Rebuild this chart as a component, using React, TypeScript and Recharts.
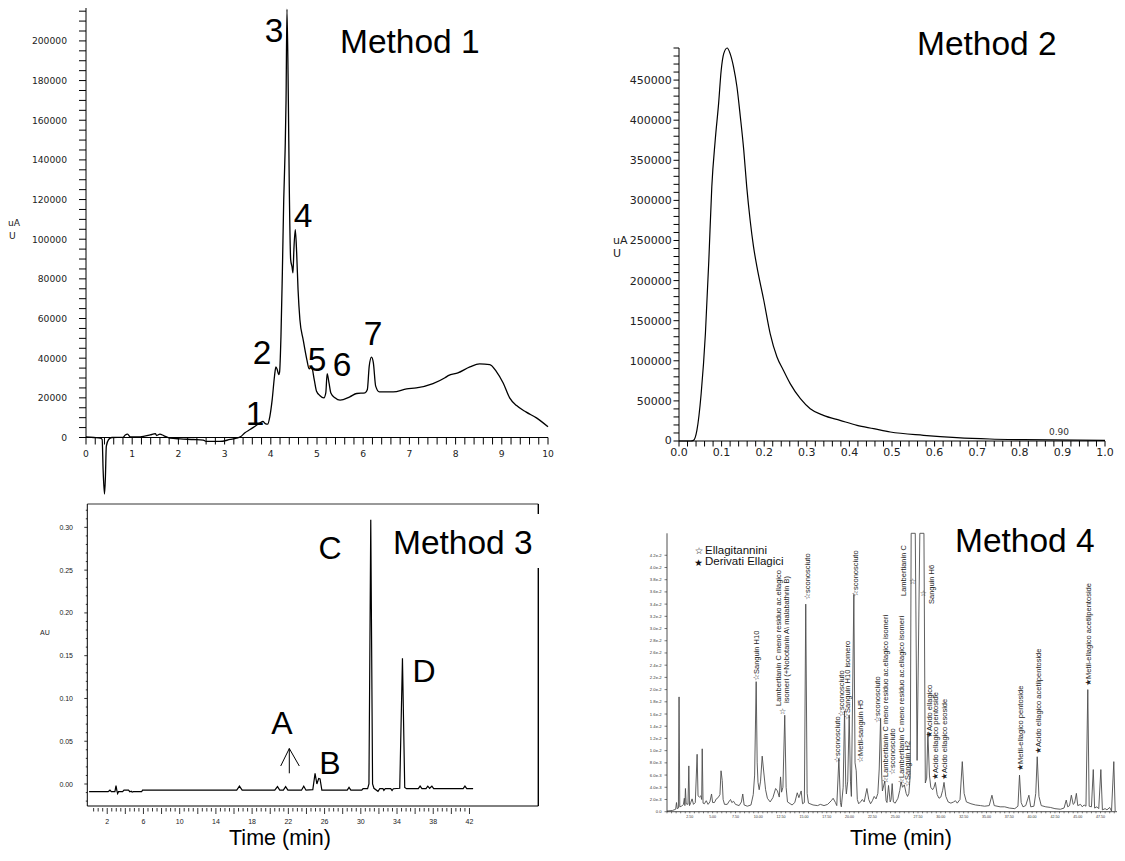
import React from 'react';
import { LineChart, Line, XAxis, YAxis, ReferenceLine } from 'recharts';

const SANS = '"Liberation Sans", Arial, Helvetica, sans-serif';
const DEJAVU = '"DejaVu Sans", Verdana, sans-serif';

// ---- Method 1 (uAU vs min) ----
const m1Time = [0, 0.17, 0.31, 0.35, 0.37, 0.4, 0.42, 0.44, 0.49, 0.56, 0.8, 0.85, 0.9, 0.96, 1.17, 1.39, 1.5, 1.53, 1.6, 1.68,
  1.82, 2.04, 2.33, 2.54, 2.6, 2.9, 3.12, 3.26, 3.34, 3.44, 3.55, 3.66, 3.77, 3.83, 3.88, 3.93, 3.98, 4.03, 4.08, 4.11,
  4.14, 4.17, 4.19, 4.22, 4.25, 4.28, 4.31, 4.33, 4.35, 4.38, 4.4, 4.43, 4.46, 4.48, 4.5, 4.53, 4.56, 4.59, 4.63, 4.7,
  4.78, 4.83, 4.88, 4.94, 4.99, 5.06, 5.15, 5.19, 5.22, 5.26, 5.3, 5.39, 5.5, 5.71, 5.86, 6.04, 6.09, 6.13, 6.18, 6.22,
  6.27, 6.35, 6.65, 6.94, 7.15, 7.51, 7.77, 7.84, 8.05, 8.31, 8.52, 8.74, 8.88, 9.03, 9.17, 9.32, 9.53, 9.75, 10];
const m1Signal = [300, 0, -300, -1000, -16000, -28500, -20000, -4400, -1000, 0, 100, 1300, 1700, 300, 300, 1300, 2000, 1000, 1700, 1000,
  -300, -700, -1000, -1300, -2000, -2000, -1000, -300, 300, 2400, 4000, 5700, 7400, 8100, 7000, 6700, 10700, 19100, 30900, 35600,
  34200, 31700, 33000, 51000, 83000, 120000, 145000, 170000, 216000, 170000, 126600, 89700, 86000, 83000, 95000, 104800, 93000, 74500, 59400, 49400,
  39300, 34600, 35900, 29200, 23300, 21200, 20000, 22500, 32200, 27500, 22500, 20000, 18800, 20500, 22200, 22500, 24200, 35900, 40500, 37600,
  25900, 23000, 23000, 24500, 25000, 27200, 30100, 31200, 32600, 35600, 37100, 36800, 33400, 27500, 20000, 16100, 12800, 9900, 5400];

// ---- Method 2 ----
const m2Time = [0, 0.027, 0.034, 0.042, 0.052, 0.062, 0.07, 0.077, 0.085, 0.093, 0.099, 0.105, 0.113, 0.12, 0.128, 0.136, 0.144,
  0.152, 0.159, 0.167, 0.175, 0.183, 0.199, 0.214, 0.23, 0.245, 0.261, 0.285, 0.308, 0.339, 0.378, 0.418, 0.457, 0.496,
  0.574, 0.652, 0.73, 0.808, 1.0];
const m2Signal = [0, 0, 800, 13300, 59000, 134000, 225000, 317000, 375000, 421000, 462000, 483000, 490000, 483000, 466600, 441700, 404200,
  362700, 316900, 275300, 242000, 217100, 175500, 133900, 104800, 88200, 71500, 52800, 40300, 32000, 25800, 19500, 15400, 11200,
  7100, 4200, 2500, 1700, 800];

// ---- Method 3 (AU) ----
const m3Time = [0, 2.1, 2.3, 2.45, 2.85, 2.97, 3.07, 3.15, 3.25, 3.7, 3.85, 4.35, 4.5, 4.65, 4.75, 4.9, 5.8, 5.9, 16.3, 16.6, 16.9,
  20.5, 20.8, 21.05, 21.45, 21.7, 21.95, 23.45, 23.7, 23.95, 24.7, 24.95, 25.15, 25.35, 25.5, 25.7, 28.5, 28.7, 28.9,
  30.1, 30.25, 30.75, 30.9, 31.1, 31.3, 31.45, 31.9, 32.1, 32.45, 32.55, 32.7, 33.3, 33.45, 33.6, 34.3, 34.6, 34.85, 35.05,
  36.35, 36.55, 36.75, 37.2, 37.4, 37.6, 37.85, 38.05, 41.3, 41.5, 41.7, 42.4];
const m3Signal = [-0.009, -0.009, -0.0072, -0.009, -0.009, -0.002, -0.008, -0.0112, -0.009, -0.009, -0.0072, -0.0072, -0.009, -0.0085, -0.0095, -0.009, -0.009, -0.0072, -0.0072, -0.0025, -0.0072,
  -0.0072, -0.003, -0.0072, -0.0072, -0.003, -0.0072, -0.0072, -0.0025, -0.0072, -0.0065, 0.0125, 0.0, 0.0065, 0.006, -0.0072, -0.0072, -0.004, -0.0072,
  -0.0072, -0.0055, -0.0055, 0.0, 0.309, 0.0, -0.005, -0.0085, -0.0055, -0.0055, -0.0075, -0.0055, -0.0055, -0.0075, -0.0055, -0.005, 0.147, -0.004, -0.0055,
  -0.0055, -0.0025, -0.0055, -0.0055, -0.0025, -0.005, -0.0025, -0.0055, -0.0055, -0.0025, -0.0055, -0.0055];

// ---- Method 4 (AU, x1e-3 below) ----
const m4Time = [0, 0.6, 0.95, 1.04, 1.12, 1.25, 1.32, 1.4, 1.6, 1.8, 1.9, 1.96, 2.02, 2.1, 2.3, 2.39, 2.47, 2.6, 2.75, 2.9,
  3.1, 3.3, 3.4, 3.55, 3.7, 3.8, 3.86, 3.95, 4.1, 4.3, 4.5, 4.7, 4.88, 5.0, 5.2, 5.4, 5.6, 5.8, 5.92, 6.05,
  6.15, 6.3, 6.6, 6.85, 6.96, 7.1, 7.3, 7.5, 7.9, 8.15, 8.3, 8.45, 8.8, 9.2, 9.45, 9.6, 9.77, 9.88, 9.97, 10.1,
  10.25, 10.43, 10.6, 10.8, 11.0, 11.3, 11.6, 11.9, 12.1, 12.3, 12.44, 12.55, 12.7, 12.9, 13.05, 13.2, 13.7, 14.0, 14.27, 14.45,
  14.7, 14.85, 15.05, 15.2, 15.35, 15.5, 16.0, 16.5, 16.8, 17.2, 17.6, 18.0, 18.2, 18.45, 18.6, 18.83, 19.0, 19.1, 19.3, 19.45,
  19.58, 19.65, 19.8, 19.96, 20.1, 20.2, 20.47, 20.6, 20.73, 20.85, 21.0, 21.2, 21.4, 21.6, 21.9, 22.1, 22.3, 22.5, 22.7, 22.9,
  23.1, 23.25, 23.4, 23.52, 23.6, 23.86, 24.0, 24.1, 24.27, 24.45, 24.55, 24.67, 24.8, 25.0, 25.3, 25.5, 25.65, 25.8, 26.0, 26.2,
  26.35, 26.5, 26.65, 26.75, 27.2, 27.4, 27.7, 28.15, 28.3, 28.45, 28.58, 28.75, 28.9, 29.1, 29.25, 29.4, 29.6, 29.8, 30.0, 30.2,
  30.35, 30.55, 30.8, 31.1, 31.4, 31.6, 31.8, 32.1, 32.35, 32.55, 32.8, 33.3, 33.8, 34.35, 34.8, 35.3, 35.6, 35.85, 36.5, 37.0,
  37.5, 38.1, 38.45, 38.62, 38.8, 39.0, 39.3, 39.65, 39.85, 40.2, 40.4, 40.56, 40.75, 41.0, 41.5, 42.0, 42.5, 43.1, 43.5, 43.74,
  43.9, 44.1, 44.3, 44.5, 44.65, 44.85, 45.0, 45.3, 45.5, 45.7, 45.9, 46.1, 46.25, 46.5, 46.7, 46.85, 47.1, 47.3, 47.53, 47.7,
  48.0, 48.2, 48.5, 48.7, 48.95, 49.1];
const m4SignalE3 = [0.1, 0.2, 0.4, 1.5, 0.5, 0.6, 18.8, 0.8, 0.9, 1.2, 2.2, 1.0, 3.8, 1.3, 1.2, 7.5, 1.0, 1.5, 2.1, 1.2,
  1.5, 9.4, 2.6, 2.4, 2.6, 2.0, 10.3, 1.4, 1.3, 1.8, 1.2, 1.6, 2.9, 1.5, 1.5, 2.1, 2.3, 2.8, 6.7, 5.1,
  2.0, 1.2, 1.2, 1.8, 2.0, 1.5, 1.7, 1.2, 1.0, 1.6, 2.9, 1.1, 0.9, 1.1, 2.8, 6.0, 21.3, 8.0, 4.8, 3.6,
  5.0, 9.1, 6.5, 3.6, 2.2, 1.6, 2.3, 3.8, 3.4, 2.4, 5.7, 3.2, 4.0, 15.8, 4.0, 1.6, 1.1, 1.5, 3.1, 2.3,
  3.4, 1.3, 1.5, 34.0, 3.0, 1.4, 1.1, 1.0, 1.2, 1.0, 1.2, 1.8, 2.2, 1.5, 1.0, 8.7, 1.5, 0.8, 4.0, 16.5,
  4.5, 2.9, 5.0, 15.8, 5.0, 2.5, 35.6, 8.0, 6.7, 2.0, 1.3, 1.6, 2.0, 1.6, 3.8, 2.0, 1.3, 1.8, 2.5, 2.1,
  3.0, 7.0, 15.3, 6.0, 3.4, 5.0, 1.8, 1.5, 4.3, 1.6, 2.0, 4.6, 1.6, 1.4, 2.2, 3.5, 4.9, 4.0, 4.4, 3.0,
  2.5, 3.0, 6.0, 45.6, 45.6, 8.4, 45.6, 45.6, 4.7, 5.5, 13.0, 6.0, 4.0, 3.6, 4.0, 4.8, 2.8, 2.2, 2.4, 3.5,
  4.8, 2.5, 1.6, 1.4, 1.6, 1.8, 1.4, 2.0, 8.2, 3.0, 1.6, 1.3, 1.1, 1.0, 0.9, 1.0, 2.7, 1.0, 0.8, 0.8,
  0.6, 0.5, 0.9, 6.0, 1.5, 0.8, 1.0, 2.7, 0.8, 0.9, 3.0, 9.0, 2.5, 1.0, 0.8, 0.7, 0.5, 0.4, 0.6, 1.9,
  0.8, 1.0, 2.7, 1.2, 1.4, 3.0, 1.0, 1.2, 0.8, 1.1, 0.9, 20.0, 0.9, 0.8, 6.9, 0.6, 0.8, 0.5, 6.9, 0.3,
  0.5, 0.3, 0.7, 0.1, 8.2, 0.1];

const m1Data = m1Time.map((t, i) => ({ t, v: m1Signal[i] }));
const m2Data = m2Time.map((t, i) => ({ t, v: m2Signal[i] }));
const m3Data = m3Time.map((t, i) => ({ t, v: m3Signal[i] }));
const m4Data = m4Time.map((t, i) => ({ t, v: m4SignalE3[i] / 1000 }));

const steps = (from: number, to: number, step: number, digits: number) => {
  const out: number[] = [];
  const n = Math.round((to - from) / step);
  for (let i = 0; i <= n; i++) out.push(+(from + i * step).toFixed(digits));
  return out;
};
const isMult = (v: number, m: number) => Math.abs(v / m - Math.round(v / m)) < 1e-6;

// ---- axes ----
const M1_YMIN = -29500, M1_YMAX = 216600, M1_W = 600, M1_H = 520, M1_TOP = 8, M1_XH = 24;
const M1_ZERO_SHIFT = ((M1_H - M1_TOP - M1_XH) * (0 - M1_YMIN)) / (M1_YMAX - M1_YMIN);
const m1XTicks = steps(0, 10, 0.2, 1);
const m1YTicks = steps(0, 215000, 5000, 0);

const M2_YMAX = 490000;
const m2XTicks = steps(0, 1, 0.02, 2);
const m2YTicks = steps(0, 490000, 10000, 0);

const M3_XMIN = -0.2, M3_XMAX = 49.6, M3_YMIN = -0.0257, M3_YMAX = 0.3273;
const m3XTicks = steps(0.5, 42, 0.5, 1);
const m3YTicks = steps(-0.02, 0.32, 0.01, 2);

const M4_XMAX = 49.3, M4_YMAX = 0.0456;
const m4XTicks = steps(0, 49, 0.5, 1);
const m4YTicks = steps(0, 0.042, 0.002, 3);

function M1XTick({ x, y, payload }: any) {
  const v = payload.value;
  const zy = y - M1_ZERO_SHIFT;
  return (
    <g>
      <line x1={x} y1={zy} x2={x} y2={zy + 7} stroke="#000" />
      {isMult(v, 1) && (
        <text x={x} y={zy + 19.5} textAnchor="middle" fontSize={9.2} fontFamily={DEJAVU} fill="#222">{Math.round(v)}</text>
      )}
    </g>
  );
}
function M1YTick({ x, y, payload }: any) {
  const v = payload.value;
  return (
    <g>
      <line x1={x - 7} y1={y} x2={x} y2={y} stroke="#000" />
      {isMult(v, 20000) && (
        <text x={x - 19} y={y + 3.4} textAnchor="end" fontSize={9.2} fontFamily={DEJAVU} fill="#222">{v}</text>
      )}
    </g>
  );
}
function M2XTick({ x, y, payload }: any) {
  const v = payload.value;
  return (
    <g>
      <line x1={x} y1={y} x2={x} y2={y + 5.5} stroke="#000" />
      {isMult(v, 0.1) && (
        <text x={x} y={y + 14.5} textAnchor="middle" fontSize={11} fontFamily={DEJAVU} fill="#222">{v.toFixed(1)}</text>
      )}
    </g>
  );
}
function M2YTick({ x, y, payload }: any) {
  const v = payload.value;
  return (
    <g>
      <line x1={x - 5.5} y1={y} x2={x} y2={y} stroke="#000" />
      {isMult(v, 50000) && (
        <text x={x - 7.3} y={y + (v === 0 ? 2.5 : 4)} textAnchor="end" fontSize={11} fontFamily={DEJAVU} fill="#222">{v}</text>
      )}
    </g>
  );
}
function M3XTick({ x, y, payload }: any) {
  const v = payload.value;
  const major = isMult(v, 2);
  return (
    <g>
      <line x1={x} y1={y + 2} x2={x} y2={y + (major ? 8 : 5.5)} stroke="#000" strokeWidth={0.8} />
      {isMult(v - 2, 4) && (
        <text x={x} y={y + 17.5} textAnchor="middle" fontSize={7} fontFamily={SANS} fill="#222">{Math.round(v)}</text>
      )}
    </g>
  );
}
function M3YTick({ x, y, payload }: any) {
  const v = payload.value;
  const major = isMult(v, 0.05);
  return (
    <g>
      <line x1={x - (major ? 3 : 1.5)} y1={y} x2={x} y2={y} stroke="#000" strokeWidth={0.8} />
      {major && v >= 0 && (
        <text x={x - 14.3} y={y + 2.5} textAnchor="end" fontSize={7} fontFamily={SANS} fill="#222">{v.toFixed(2)}</text>
      )}
    </g>
  );
}
function M4XTick({ x, y, payload }: any) {
  const v = payload.value;
  return (
    <g>
      <line x1={x} y1={y} x2={x} y2={y + 1.6} stroke="#222" strokeWidth={0.6} />
      {v > 0 && isMult(v, 2.5) && (
        <text x={x} y={y + 5.8} textAnchor="middle" fontSize={3.6} fontFamily={SANS} fill="#333">{v.toFixed(2)}</text>
      )}
    </g>
  );
}
function M4YTick({ x, y, payload }: any) {
  const v = payload.value;
  return (
    <g>
      <line x1={x - 2.5} y1={y} x2={x} y2={y} stroke="#222" strokeWidth={0.6} />
      <text x={x - 5.3} y={y + 1.5} textAnchor="end" fontSize={4.2} fontFamily={SANS} fill="#333">
        {v === 0 ? '0.0' : v.toExponential(1)}
      </text>
    </g>
  );
}

// rotated peak labels of Method 4: [text, column x, bottom y]
const m4Notes: [string, number, number][] = [
  ['☆Sanguin H10', 756.7, 681],
  ['Lambertianin C meno residuo ac.ellagico', 778.3, 706],
  ['isomeri (+Nobotanin A\\ malabathrin B)', 786.7, 703],
  ['☆sconosciuto', 807, 600],
  ['☆sconosciuto', 837.5, 763],
  ['☆sconosciuto', 841, 717],
  ['☆Sanguin H10 isomero', 847.5, 720],
  ['☆sconosciuto', 855.5, 597],
  ['☆Metil-sanguin H5', 860.5, 763],
  ['☆sconosciuto', 877.5, 723],
  ['☆Lambertianin C meno residuo ac.ellagico isomeri', 885.5, 784],
  ['☆sconosciuto', 892.5, 775],
  ['☆Lambertianin C meno residuo ac.ellagico isomeri', 901, 785],
  ['☆Sanguin H2', 907, 787],
  ['Lambertianin C', 903.3, 596],
  ['Sanguin H6', 931.7, 604],
  ['★Acido ellagico', 929, 738],
  ['★Acido ellagico pentoside', 935.5, 780],
  ['★Acido ellagico esoside', 944.5, 780],
  ['★Metil-ellagico pentoside', 1020.5, 771],
  ['★Acido ellagico acetilpentoside', 1038.5, 754],
  ['★Metil-ellagico acetilpentoside', 1088, 686],
];
const m4Stars: [string, number, number][] = [
  ['☆', 782.7, 713.5],
  ['☆', 912.7, 584],
  ['☆', 923.3, 596],
];

const big = { fontFamily: SANS, fill: '#000' } as const;

export default function App() {
  return (
    <div style={{ position: 'absolute', left: 0, top: 0, width: 1125, height: 861, background: '#fff', overflow: 'hidden' }}>
      {/* Method 1 */}
      <div style={{ position: 'absolute', left: 0, top: 0 }}>
        <LineChart width={M1_W} height={M1_H} data={m1Data} margin={{ top: M1_TOP, right: 52, bottom: 0, left: 0 }}>
          <XAxis dataKey="t" type="number" domain={[0, 10]} ticks={m1XTicks} interval={0} height={M1_XH}
            axisLine={false} tickLine={false} tickSize={0} tickMargin={0} tick={M1XTick} />
          <YAxis type="number" domain={[M1_YMIN, M1_YMAX]} ticks={m1YTicks} interval={0} width={86}
            axisLine={false} tickLine={false} tickSize={0} tickMargin={0} tick={M1YTick} />
          <ReferenceLine y={0} stroke="#000" ifOverflow="visible" />
          <ReferenceLine segment={[{ x: 0, y: 0 }, { x: 0, y: M1_YMAX }]} stroke="#000" ifOverflow="visible" />
          <Line dataKey="v" type="monotoneX" stroke="#000" strokeWidth={1.3} dot={false} isAnimationActive={false} />
        </LineChart>
      </div>

      {/* Method 2 */}
      <div style={{ position: 'absolute', left: 590, top: 0 }}>
        <LineChart width={535} height={480} data={m2Data} margin={{ top: 48, right: 20, bottom: 0, left: 0 }}>
          <XAxis dataKey="t" type="number" domain={[0, 1]} ticks={m2XTicks} interval={0} height={39}
            axisLine={{ stroke: '#000' }} tickLine={false} tickSize={0} tickMargin={0} tick={M2XTick} />
          <YAxis type="number" domain={[0, M2_YMAX]} ticks={m2YTicks} interval={0} width={89}
            axisLine={{ stroke: '#000' }} tickLine={false} tickSize={0} tickMargin={0} tick={M2YTick} />
          <Line dataKey="v" type="monotoneX" stroke="#000" strokeWidth={1.2} dot={false} isAnimationActive={false} />
        </LineChart>
      </div>

      {/* Method 3 */}
      <div style={{ position: 'absolute', left: 0, top: 490 }}>
        <LineChart width={560} height={371} data={m3Data} margin={{ top: 14, right: 21.7, bottom: 0, left: 0 }}>
          <XAxis dataKey="t" type="number" domain={[M3_XMIN, M3_XMAX]} ticks={m3XTicks} interval={0} height={55}
            axisLine={{ stroke: '#000' }} tickLine={false} tickSize={0} tickMargin={0} tick={M3XTick} />
          <YAxis type="number" domain={[M3_YMIN, M3_YMAX]} ticks={m3YTicks} interval={0} width={87.3}
            axisLine={{ stroke: '#000' }} tickLine={false} tickSize={0} tickMargin={0} tick={M3YTick} />
          <ReferenceLine y={M3_YMAX} stroke="#777" strokeWidth={1.6} ifOverflow="visible" />
          <ReferenceLine segment={[{ x: M3_XMAX, y: M3_YMAX }, { x: M3_XMAX, y: 0.3156 }]} stroke="#000" strokeWidth={1.4} ifOverflow="visible" />
          <ReferenceLine segment={[{ x: M3_XMAX, y: 0.2525 }, { x: M3_XMAX, y: M3_YMIN }]} stroke="#000" strokeWidth={1.4} ifOverflow="visible" />
          <Line dataKey="v" type="linear" stroke="#000" strokeWidth={1.2} dot={false} isAnimationActive={false} />
        </LineChart>
      </div>

      {/* Method 4 */}
      <div style={{ position: 'absolute', left: 560, top: 490 }}>
        <LineChart width={565} height={371} data={m4Data} margin={{ top: 43.3, right: 8, bottom: 0, left: 0 }}>
          <XAxis dataKey="t" type="number" domain={[0, M4_XMAX]} ticks={m4XTicks} interval={0} height={49.3}
            axisLine={{ stroke: '#222', strokeWidth: 0.8 }} tickLine={false} tickSize={0} tickMargin={0} tick={M4XTick} />
          <YAxis type="number" domain={[0, M4_YMAX]} ticks={m4YTicks} interval={0} width={107}
            axisLine={{ stroke: '#222', strokeWidth: 0.8 }} tickLine={false} tickSize={0} tickMargin={0} tick={M4YTick} />
          <Line dataKey="v" type="linear" stroke="#4d4d4d" strokeWidth={0.9} dot={false} isAnimationActive={false} />
        </LineChart>
      </div>

      {/* annotations */}
      <svg width={1125} height={861} style={{ position: 'absolute', left: 0, top: 0, pointerEvents: 'none' }}>
        <text x={340} y={53} fontSize={33.5} {...big}>Method 1</text>
        <text x={917} y={55} fontSize={33.5} {...big}>Method 2</text>
        <text x={393} y={554} fontSize={33.5} {...big}>Method 3</text>
        <text x={955} y={552} fontSize={33.5} {...big}>Method 4</text>

        <g fontSize={33.5} textAnchor="middle" {...big}>
          <text x={255} y={425}>1</text>
          <text x={262} y={364}>2</text>
          <text x={274} y={42}>3</text>
          <text x={303} y={227}>4</text>
          <text x={317} y={371}>5</text>
          <text x={342} y={376}>6</text>
          <text x={373} y={345}>7</text>
        </g>
        <g fontSize={32} textAnchor="middle" {...big}>
          <text x={330} y={558.5}>C</text>
          <text x={424} y={681.5}>D</text>
          <text x={282} y={733.5}>A</text>
          <text x={330} y={774}>B</text>
        </g>
        <g stroke="#000" strokeWidth={1} fill="none">
          <line x1={289.3} y1={773.3} x2={289.3} y2={748.5} />
          <polyline points="280.7,766 289.3,748.5 299.3,766" />
        </g>

        <text x={280} y={845} fontSize={21.5} textAnchor="middle" {...big}>Time (min)</text>
        <text x={901} y={845} fontSize={21.5} textAnchor="middle" {...big}>Time (min)</text>

        <g fontFamily={DEJAVU} fill="#222">
          <text x={8} y={226} fontSize={9.2}>uA</text>
          <text x={9} y={239} fontSize={9.2}>U</text>
          <text x={613} y={244} fontSize={11}>uA</text>
          <text x={613} y={257} fontSize={11}>U</text>
          <text x={1059} y={435} fontSize={9} textAnchor="middle" fill="#333">0.90</text>
        </g>
        <text x={40} y={635} fontSize={7} fontFamily={SANS} fill="#222">AU</text>

        <g fill="#111">
          <text x={699} y={553.5} fontSize={9.5} fontFamily={DEJAVU} textAnchor="middle">☆</text>
          <text x={705} y={554} fontSize={11.5} fontFamily={SANS}>Ellagitannini</text>
          <text x={698.5} y={566} fontSize={9.5} fontFamily={DEJAVU} textAnchor="middle">★</text>
          <text x={705} y={565} fontSize={11.5} fontFamily={SANS}>Derivati Ellagici</text>
        </g>
        <g fontFamily={SANS} fill="#222" fontSize={7.5}>
          {m4Notes.map(([txt, x, y], i) => (
            <text key={i} transform={`translate(${x},${y}) rotate(-90)`} dy="0.35em">{txt}</text>
          ))}
          {m4Stars.map(([s, x, y], i) => (
            <text key={'s' + i} x={x} y={y} textAnchor="middle" fontFamily={DEJAVU} fontSize={8}>{s}</text>
          ))}
        </g>
      </svg>
    </div>
  );
}
